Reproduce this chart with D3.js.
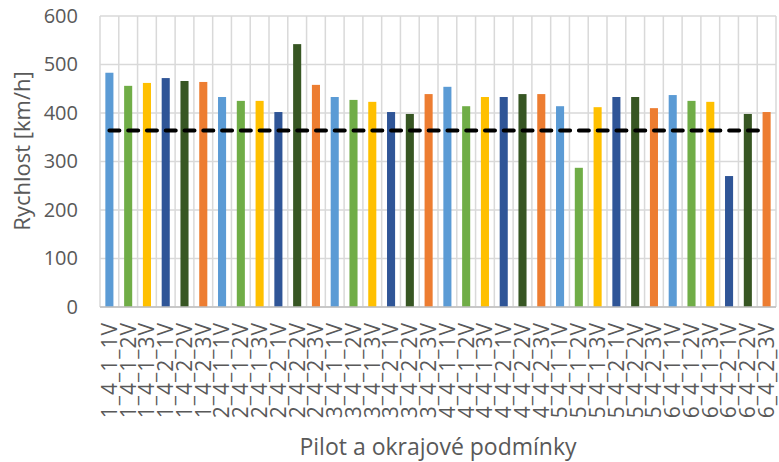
<!DOCTYPE html>
<html>
<head>
<meta charset="utf-8">
<script src="https://cdn.jsdelivr.net/npm/d3@7"></script>
<style>
  html, body { margin: 0; padding: 0; background: #fff; }
  svg { display: block; font-family: "Open Sans", "Noto Sans", sans-serif; }
</style>
</head>
<body>
<svg id="chart" width="779" height="462"></svg>
<script>
// Speed per pilot and boundary condition
const categories = [
  "1_4_1_1V","1_4_1_2V","1_4_1_3V","1_4_2_1V","1_4_2_2V","1_4_2_3V",
  "2_4_1_1V","2_4_1_2V","2_4_1_3V","2_4_2_1V","2_4_2_2V","2_4_2_3V",
  "3_4_1_1V","3_4_1_2V","3_4_1_3V","3_4_2_1V","3_4_2_2V","3_4_2_3V",
  "4_4_1_1V","4_4_1_2V","4_4_1_3V","4_4_2_1V","4_4_2_2V","4_4_2_3V",
  "5_4_1_1V","5_4_1_2V","5_4_1_3V","5_4_2_1V","5_4_2_2V","5_4_2_3V",
  "6_4_1_1V","6_4_1_2V","6_4_1_3V","6_4_2_1V","6_4_2_2V","6_4_2_3V"
];
const speeds = [
  483, 456, 462, 472, 466, 464,
  433, 425, 425, 402, 542, 458,
  433, 427, 423, 402, 398, 439,
  454, 414, 433, 433, 439, 439,
  414, 287, 412, 433, 433, 410,
  437, 425, 423, 270, 398, 402
];
// Reference speed drawn as the dashed line
const referenceSpeed = 364;
const yTicks = [0, 100, 200, 300, 400, 500, 600];
const palette = ["#5b9bd5", "#70ad47", "#ffc000", "#2f5597", "#375623", "#ed7d31"];

const svg = d3.select("#chart");
const m = { left: 100, right: 3, top: 16, bottom: 155 };
const W = 779, H = 462;
const x = d3.scaleBand().domain(categories).range([m.left, W - m.right]).paddingInner(0.57).paddingOuter(0.285);
const xCell = d3.scaleBand().domain(categories).range([m.left, W - m.right]);
const y = d3.scaleLinear().domain([0, 600]).range([H - m.bottom, m.top]);

// horizontal gridlines
svg.append("g").selectAll("line").data(yTicks).join("line")
  .attr("x1", m.left).attr("x2", W - m.right)
  .attr("y1", d => y(d)).attr("y2", d => y(d))
  .attr("stroke", "#d9d9d9").attr("stroke-width", 1.5);

// vertical gridlines between categories
const bounds = categories.map(c => xCell(c)).concat([W - m.right]);
svg.append("g").selectAll("line").data(bounds).join("line")
  .attr("x1", d => d).attr("x2", d => d)
  .attr("y1", y(600)).attr("y2", y(0))
  .attr("stroke", "#d9d9d9").attr("stroke-width", 1.5);

// bars
svg.append("g").selectAll("rect").data(speeds).join("rect")
  .attr("x", (d, i) => x(categories[i]))
  .attr("width", x.bandwidth())
  .attr("y", d => y(d))
  .attr("height", d => y(0) - y(d))
  .attr("fill", (d, i) => palette[i % palette.length]);

// baseline
svg.append("line")
  .attr("x1", m.left).attr("x2", W - m.right)
  .attr("y1", y(0)).attr("y2", y(0))
  .attr("stroke", "#bfbfbf").attr("stroke-width", 1.5);

// dashed reference line
const refLine = d3.line().x(d => xCell(d) + xCell.bandwidth() / 2).y(() => y(referenceSpeed));
svg.append("path")
  .datum([categories[0], categories[categories.length - 1]])
  .attr("d", refLine)
  .attr("fill", "none").attr("stroke", "#000").attr("stroke-width", 4)
  .attr("stroke-linecap", "round")
  .attr("stroke-dasharray", "10 8.78");

// y axis labels
const yAxis = d3.axisLeft(y).tickValues(yTicks).tickSize(0).tickPadding(22);
const gy = svg.append("g").attr("transform", `translate(${m.left},0)`).call(yAxis);
gy.select(".domain").remove();
gy.selectAll("text").attr("fill", "#595959").style("font-size", "20px")
  .style("font-family", "'Open Sans', sans-serif");

// x axis labels, rotated
const xAxis = d3.axisBottom(xCell).tickSize(0).tickPadding(0);
const gx = svg.append("g").attr("transform", `translate(0,${y(0)})`).call(xAxis);
gx.select(".domain").remove();
gx.selectAll("text")
  .attr("fill", "#595959").style("font-size", "21px")
  .style("font-family", "'Open Sans', sans-serif")
  .style("letter-spacing", "1px")
  .attr("transform", "rotate(-90)")
  .attr("x", -15).attr("y", 0).attr("dy", "0.35em")
  .attr("text-anchor", "end");

// axis titles
svg.append("text")
  .attr("x", 438).attr("y", 455)
  .attr("text-anchor", "middle").attr("fill", "#595959")
  .style("font-size", "23px").text("Pilot a okrajové podmínky");

svg.append("text")
  .attr("transform", `translate(30,151) rotate(-90)`)
  .attr("text-anchor", "middle").attr("fill", "#595959")
  .style("font-size", "22px").text("Rychlost [km/h]");
</script>
</body>
</html>
